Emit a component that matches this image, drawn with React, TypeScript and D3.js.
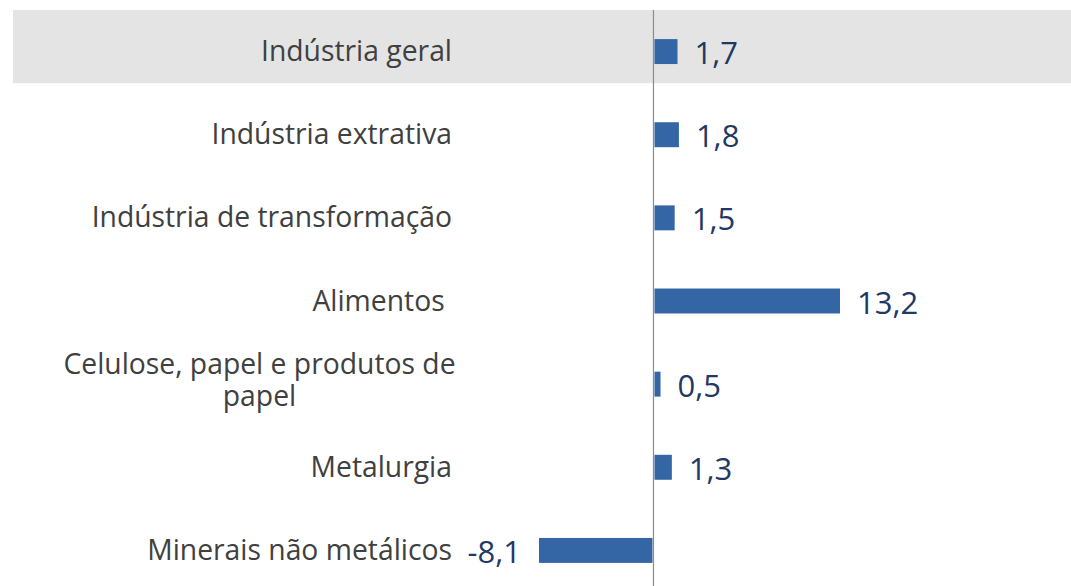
import React from 'react';
import * as d3 from 'd3';

const categories = [
  'Indústria geral',
  'Indústria extrativa',
  'Indústria de transformação',
  'Alimentos ',
  'Celulose, papel e produtos de|papel',
  'Metalurgia',
  'Minerais não metálicos',
];
const values = [1.7, 1.8, 1.5, 13.2, 0.5, 1.3, -8.1];
const highlighted = ['Indústria geral'];

const width = 1071;
const height = 586;
const labelRight = 452;
const barColor = '#3465a4';
const valueColor = '#1f3864';
const labelColor = '#404040';

const fmt = (v: number) => v.toFixed(1).replace('.', ',');

export default function App() {
  const y = d3
    .scaleBand<string>()
    .domain(categories)
    .range([10, 592])
    .paddingInner(0.7)
    .paddingOuter(0.35);

  const x = d3
    .scaleLinear()
    .domain([d3.min(values) as number, d3.max(values) as number])
    .range([539, 840]);

  const step = y.step();
  const bw = y.bandwidth();

  return (
    <svg
      width={width}
      height={height}
      style={{ position: 'absolute', left: 0, top: 0, background: '#fff' }}
      fontFamily="'Open Sans', sans-serif"
    >
      {/* shaded row */}
      {highlighted.map(c => (
        <rect
          key={c}
          x={13}
          y={10}
          width={width - 13}
          height={(y(c) as number) + bw / 2 - 10 + step * 0.38}
          fill="#e4e4e4"
        />
      ))}

      <line x1={x(0)} x2={x(0)} y1={10} y2={height} stroke="#8c8c8c" strokeWidth={1.2} />

      {categories.map((c, i) => {
        const v = values[i];
        const cy = (y(c) as number) + bw / 2;
        const lines = c.split('|');
        return (
          <g key={c}>
            <rect
              x={x(Math.min(0, v)) + (v > 0 ? 1 : 0)}
              y={y(c)}
              width={Math.abs(x(v) - x(0)) - 1}
              height={bw}
              fill={barColor}
            />
            {lines.length === 1 ? (
              <text
                x={labelRight}
                y={cy + 9.5}
                textAnchor="end"
                fontSize={28.3}
                fill={labelColor}
                style={{ whiteSpace: 'pre' }}
              >
                {c}
              </text>
            ) : (
              <text fontSize={28.3} fill={labelColor} textAnchor="middle">
                <tspan x={259.5} y={cy - 10}>
                  {lines[0]}
                </tspan>
                <tspan x={259.5} y={cy + 22}>
                  {lines[1]}
                </tspan>
              </text>
            )}
            <text
              x={v >= 0 ? x(v) + 17 : x(v) - 18}
              y={cy + 12.5}
              textAnchor={v >= 0 ? 'start' : 'end'}
              fontSize={31}
              fill={valueColor}
            >
              {fmt(v)}
            </text>
          </g>
        );
      })}
    </svg>
  );
}
